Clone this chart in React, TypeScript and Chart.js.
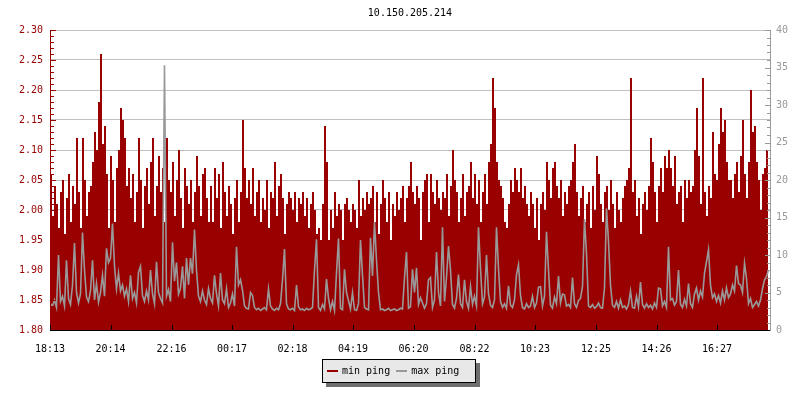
import React, { useEffect, useRef } from "react";
import { Chart, registerables } from "chart.js";

Chart.register(...registerables);

const chartTitle = "10.150.205.214";
const tickLabels = ["18:13", "20:14", "22:16", "00:17", "02:18", "04:19", "06:20", "08:22", "10:23", "12:25", "14:26", "16:27"];
const sampleMinutes = 4;
const spanMinutes = 1440;

const minPing = [
  2.06, 1.99, 2.04, 2.01, 1.97, 2.03, 2.05, 1.96, 2.02, 2.06, 1.98, 2.04, 2.01, 2.12, 2.03, 1.97, 2.12, 2.05, 1.99, 2.03,
  2.04, 2.08, 2.13, 2.10, 2.18, 2.26, 2.11, 2.14, 2.06, 1.97, 2.09, 2.05, 1.98, 2.07, 2.10, 2.17, 2.15, 2.12, 2.04, 2.07,
  2.02, 2.06, 1.98, 2.03, 2.12, 2.05, 1.97, 2.04, 2.07, 2.01, 2.08, 2.12, 1.99, 2.04, 2.09, 2.03, 2.07, 1.98, 2.12, 2.05,
  2.03, 2.08, 1.99, 2.05, 2.10, 2.02, 1.97, 2.07, 2.04, 2.01, 2.05, 1.98, 2.03, 2.09, 2.04, 1.99, 2.06, 2.07, 2.02, 1.98,
  2.04, 1.98, 2.07, 2.02, 2.06, 1.97, 2.08, 2.03, 1.99, 2.04, 2.01, 1.96, 2.02, 2.05, 1.98, 2.03, 2.15, 2.07, 2.02, 2.05,
  2.01, 2.07, 1.99, 2.03, 2.05, 1.98, 2.02, 2.00, 2.05, 1.97, 2.03, 2.02, 2.08, 1.99, 2.04, 2.06, 2.02, 1.96, 2.01, 2.03,
  2.02, 2.00, 2.03, 1.98, 2.02, 2.01, 2.03, 1.99, 2.02, 1.97, 2.01, 2.03, 2.00, 1.96, 1.97, 1.95, 2.01, 2.14, 2.08, 1.95,
  2.00, 1.97, 2.03, 1.99, 2.01, 2.00, 1.95, 2.01, 2.02, 2.00, 1.98, 2.01, 2.00, 1.97, 2.05, 1.99, 2.02, 2.00, 2.03, 2.01,
  2.02, 2.04, 1.98, 2.03, 1.96, 2.01, 2.05, 2.02, 1.98, 2.03, 1.95, 2.01, 1.99, 2.03, 2.00, 2.02, 2.04, 1.98, 2.02, 2.04,
  2.08, 2.03, 2.01, 2.04, 2.02, 1.95, 2.03, 2.05, 2.06, 1.98, 2.06, 2.03, 2.01, 2.05, 2.02, 2.00, 2.03, 2.02, 2.06, 1.99,
  2.04, 2.10, 2.05, 2.03, 1.98, 2.02, 2.06, 1.99, 2.03, 2.04, 2.08, 2.02, 2.06, 2.01, 2.05, 1.98, 2.03, 2.06, 2.01, 2.08,
  2.11, 2.22, 2.17, 2.08, 2.05, 2.04, 2.02, 1.98, 1.97, 2.01, 2.05, 2.03, 2.07, 2.05, 2.03, 2.07, 2.02, 2.04, 2.01, 1.99,
  2.03, 2.01, 1.97, 2.02, 1.95, 2.01, 2.03, 2.00, 2.08, 2.05, 2.02, 2.07, 2.08, 2.04, 2.02, 2.05, 1.99, 2.03, 2.01, 2.04,
  2.05, 2.08, 2.11, 2.03, 1.99, 2.02, 2.04, 1.98, 2.01, 2.03, 1.97, 2.04, 2.00, 2.09, 2.06, 2.01, 1.98, 2.03, 2.04, 2.00,
  2.05, 2.01, 1.97, 2.03, 2.00, 1.98, 2.02, 2.04, 2.05, 2.07, 2.22, 2.03, 2.05, 1.99, 2.02, 1.96, 2.01, 2.03, 2.00, 2.04,
  2.12, 2.08, 2.03, 1.98, 2.04, 2.07, 2.03, 2.09, 2.07, 2.10, 2.07, 2.04, 2.09, 2.01, 2.03, 2.04, 1.98, 2.05, 2.02, 2.05,
  2.03, 2.04, 2.10, 2.17, 2.09, 2.01, 2.22, 2.03, 1.99, 2.04, 2.02, 2.13, 2.06, 2.05, 2.11, 2.17, 2.13, 2.15, 2.08, 2.05,
  2.05, 2.02, 2.06, 2.08, 2.03, 2.09, 2.15, 2.06, 2.02, 2.08, 2.20, 2.13, 2.14, 2.08, 2.05, 2.00, 2.06, 2.07, 2.10, 2.14,
];

const maxPing = [
  3.5, 3.2, 4.0, 3.0, 10.0, 3.8, 4.5, 3.2, 9.3, 4.2, 3.4, 6.0, 11.6, 5.0, 3.6, 4.8, 13.0, 8.0, 4.4, 3.8,
  5.2, 9.3, 4.0, 6.2, 3.7, 5.0, 7.3, 4.5, 10.9, 9.0, 9.6, 14.2, 8.5, 5.5, 7.6, 5.2, 6.0, 4.5, 5.5, 3.8,
  7.3, 4.2, 5.0, 3.6, 7.7, 8.5, 4.6, 3.8, 5.2, 4.0, 8.0, 4.8, 3.5, 9.1, 5.0, 4.2, 3.6, 35.3, 4.5, 5.4,
  3.8, 11.7, 6.5, 9.0, 4.8, 5.6, 8.5, 4.2, 9.6, 6.0, 9.6, 7.5, 13.4, 8.0, 4.5, 3.8, 5.2, 4.0, 3.4, 5.5,
  4.2, 3.6, 7.3, 4.8, 3.2, 7.6, 4.0, 3.5, 5.5, 3.0, 3.6, 4.8, 3.2, 11.1, 6.0, 6.7, 5.3, 3.2, 2.9, 2.8,
  5.0, 4.6, 3.0, 2.7, 2.9, 2.6, 2.8, 3.0, 2.7, 5.5, 3.2, 2.8, 2.6, 2.9, 2.7, 3.5, 6.7, 10.8, 3.5, 2.8,
  2.7, 2.9, 2.6, 6.0, 3.1, 2.7, 2.8, 2.6, 2.9, 2.7, 2.8, 3.0, 8.0, 12.1, 3.0, 2.6, 3.4, 2.8, 6.8, 4.2,
  2.7, 3.8, 2.6, 7.6, 12.2, 2.9, 2.7, 8.1, 5.0, 3.9, 2.8, 5.0, 2.7, 2.6, 3.5, 12.0, 7.3, 3.0, 2.8, 2.7,
  12.3, 7.2, 14.4, 9.3, 5.0, 2.7, 2.8, 2.6, 2.7, 2.9, 2.6, 2.7, 2.8, 2.6, 2.7, 2.9, 2.8, 7.0, 10.4, 2.9,
  3.1, 8.1, 5.0, 8.3, 3.4, 4.3, 3.6, 2.9, 3.5, 6.7, 7.0, 3.0, 4.0, 10.4, 5.0, 3.2, 13.7, 3.8, 7.0, 11.2,
  8.0, 3.4, 2.9, 4.2, 7.4, 3.5, 3.0, 6.7, 3.8, 2.9, 5.8, 3.4, 4.5, 3.2, 13.7, 8.2, 3.5, 4.4, 10.0, 4.8,
  3.3, 3.0, 4.0, 13.7, 8.2, 3.8, 3.0, 3.5, 2.9, 5.9, 3.3, 3.0, 4.0, 7.4, 8.7, 4.6, 3.0, 2.8, 3.5, 3.0,
  3.2, 4.5, 3.0, 3.6, 5.7, 5.8, 3.2, 4.5, 13.1, 8.0, 3.3, 2.9, 4.4, 3.5, 7.2, 3.6, 4.8, 4.7, 3.2, 3.4,
  3.0, 7.0, 3.5, 3.0, 3.9, 4.2, 5.8, 14.8, 10.2, 3.2, 3.0, 3.4, 2.9, 3.1, 3.6, 3.0, 2.9, 5.6, 16.2, 11.8,
  6.0, 3.3, 3.0, 3.8, 2.9, 4.0, 3.0, 3.2, 2.8, 3.4, 5.2, 3.0, 2.9, 4.5, 3.1, 6.4, 3.4, 2.9, 3.5, 3.0,
  3.3, 2.8, 3.6, 3.0, 5.6, 5.5, 3.2, 3.8, 3.0, 11.1, 4.0, 4.2, 3.3, 3.8, 8.0, 3.4, 3.0, 4.1, 3.2, 6.2,
  3.5, 3.0, 4.8, 5.6, 4.0, 5.2, 4.4, 7.6, 9.1, 10.7, 6.0, 4.3, 4.8, 3.8, 4.6, 3.6, 5.2, 4.0, 5.6, 4.3,
  4.8, 6.0, 5.2, 8.6, 6.2, 6.0, 5.0, 8.9, 6.9, 3.5, 4.2, 3.0, 3.4, 3.8, 3.2, 4.0, 5.5, 6.7, 7.1, 8.0,
];

const RED = "#990000";
const GREY = "#999999";
const FONT = "'DejaVu Sans Mono', monospace";

function toMinutes(label: string): number {
  const [h, m] = label.split(":").map(Number);
  return h * 60 + m;
}
const startMinutes = toMinutes(tickLabels[0]);
const tickMinutes = tickLabels.map((l) => (toMinutes(l) - startMinutes + 1440) % 1440);

const axisPlugin = {
  id: "rrdAxes",
  afterDatasetsDraw(chart: any) {
    const { ctx, chartArea } = chart;
    const { left, right, top, bottom } = chartArea;
    const y = chart.scales.y;
    const y2 = chart.scales.y2;
    const x = chart.scales.x;
    ctx.save();
    ctx.lineWidth = 1;

    ctx.strokeStyle = RED;
    ctx.beginPath();
    ctx.moveTo(left + 0.5, top);
    ctx.lineTo(left + 0.5, bottom);
    for (let k = 0; k <= 50; k++) {
      const py = Math.round(y.getPixelForValue(1.8 + k * 0.01)) + 0.5;
      const len = k % 5 === 0 ? 6 : 4;
      ctx.moveTo(left, py);
      ctx.lineTo(left + len, py);
    }
    ctx.stroke();

    ctx.strokeStyle = GREY;
    ctx.beginPath();
    ctx.moveTo(right + 0.5, top);
    ctx.lineTo(right + 0.5, bottom);
    for (let k = 0; k <= 40; k++) {
      const py = Math.round(y2.getPixelForValue(k)) + 0.5;
      const len = k % 5 === 0 ? 6 : 4;
      ctx.moveTo(right + 1, py);
      ctx.lineTo(right + 1 - len, py);
    }
    ctx.stroke();

    ctx.strokeStyle = "#000000";
    ctx.beginPath();
    ctx.moveTo(left, bottom + 0.5);
    ctx.lineTo(right, bottom + 0.5);
    tickMinutes.forEach((m) => {
      const px = Math.round(x.getPixelForValue(m)) + 0.5;
      ctx.moveTo(px, bottom);
      ctx.lineTo(px, bottom - 5);
    });
    ctx.stroke();
    ctx.restore();
  },
};

export default function App() {
  const canvasRef = useRef<HTMLCanvasElement | null>(null);

  useEffect(() => {
    document.body.style.margin = "0";
    const canvas = canvasRef.current;
    if (!canvas) return;
    const chart = new Chart(canvas, {
      type: "line",
      data: {
        datasets: [
          {
            label: "max ping",
            data: maxPing.map((v, i) => ({ x: i * sampleMinutes + 1, y: v })),
            yAxisID: "y2",
            borderColor: GREY,
            backgroundColor: GREY,
            borderWidth: 1.6,
            pointRadius: 0,
            tension: 0,
            fill: false,
            order: 0,
          },
          {
            label: "min ping",
            data: minPing.map((v, i) => ({ x: i * sampleMinutes, y: v })),
            yAxisID: "y",
            borderColor: RED,
            backgroundColor: RED,
            borderWidth: 0,
            pointRadius: 0,
            stepped: true,
            fill: "start",
            order: 1,
          },
        ],
      },
      options: {
        animation: false,
        responsive: false,
        devicePixelRatio: 1,
        layout: { padding: { top: 30, left: 0, right: 0, bottom: 0 } },
        plugins: {
          legend: { display: false },
          tooltip: { enabled: false },
          title: { display: false },
        },
        scales: {
          x: {
            type: "linear",
            min: 0,
            max: spanMinutes,
            grid: { display: false },
            border: { display: false },
            afterBuildTicks: (scale: any) => {
              scale.ticks = tickMinutes.map((v) => ({ value: v }));
            },
            afterFit: (scale: any) => {
              scale.height = 70;
            },
            ticks: {
              autoSkip: false,
              maxRotation: 0,
              minRotation: 0,
              padding: 5,
              color: "#000000",
              font: { family: FONT, size: 10 },
              callback: (value: any) => {
                const idx = tickMinutes.indexOf(Number(value));
                return idx >= 0 ? tickLabels[idx] : "";
              },
            },
          },
          y: {
            position: "left",
            min: 1.8,
            max: 2.3,
            grid: { color: "#c0c0c0", lineWidth: 1, drawTicks: false },
            border: { display: false },
            afterFit: (scale: any) => {
              scale.width = 50;
            },
            ticks: {
              stepSize: 0.05,
              padding: 7,
              color: RED,
              font: { family: FONT, size: 10 },
              callback: (value: any) => Number(value).toFixed(2),
            },
          },
          y2: {
            position: "right",
            min: 0,
            max: 40,
            grid: { display: false, drawTicks: false },
            border: { display: false },
            afterFit: (scale: any) => {
              scale.width = 30;
            },
            ticks: {
              stepSize: 5,
              padding: 6,
              color: GREY,
              font: { family: FONT, size: 10 },
            },
          },
        },
      },
      plugins: [axisPlugin],
    });
    return () => chart.destroy();
  }, []);

  const legendItem = (color: string, text: string, gap: number) => (
    <span style={{ display: "flex", alignItems: "center", marginLeft: gap }}>
      <span style={{ display: "inline-block", width: 11, height: 2, background: color, marginRight: 4 }} />
      <span>{text}</span>
    </span>
  );

  return (
    <div style={{ position: "relative", width: 800, height: 400, background: "#ffffff", fontFamily: FONT, fontSize: 10 }}>
      <canvas ref={canvasRef} width={800} height={400} style={{ display: "block", width: 800, height: 400 }} />
      <div
        style={{
          position: "absolute",
          left: 50,
          width: 720,
          top: 7,
          lineHeight: "12px",
          textAlign: "center",
          color: "#000000",
        }}
      >
        {chartTitle}
      </div>
      <div
        style={{
          position: "absolute",
          left: 322,
          top: 359,
          width: 154,
          height: 24,
          boxSizing: "border-box",
          border: "1px solid #000000",
          background: "#e8e8e8",
          boxShadow: "4px 4px 0 #6e6e6e",
          display: "flex",
          alignItems: "center",
          paddingLeft: 4,
          color: "#000000",
          lineHeight: "12px",
        }}
      >
        {legendItem(RED, "min ping", 0)}
        {legendItem(GREY, "max ping", 6)}
      </div>
    </div>
  );
}
